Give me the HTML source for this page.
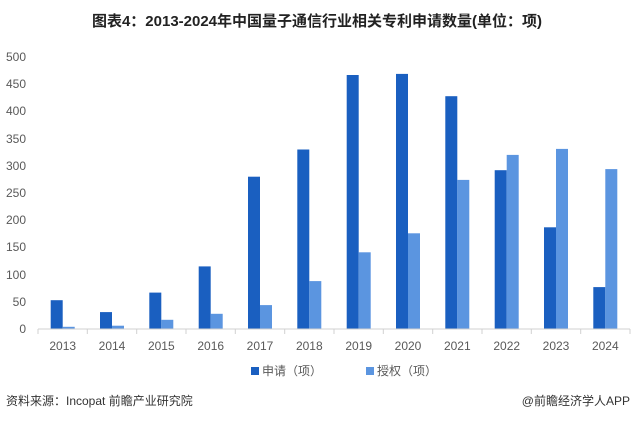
<!DOCTYPE html>
<html><head><meta charset="utf-8"><style>
body{margin:0;background:#fff;}
svg text{font-family:"Liberation Sans","Noto Sans CJK SC",sans-serif;}
</style></head><body>
<svg width="635" height="422" viewBox="0 0 635 422" xmlns="http://www.w3.org/2000/svg">
<rect width="635" height="422" fill="#fff"/>
<text x="317" y="26" text-anchor="middle" font-size="15" font-weight="bold" fill="#222">图表4：2013-2024年中国量子通信行业相关专利申请数量(单位：项)</text>
<g font-size="12" fill="#595959" text-anchor="end">
<text x="26" y="333">0</text><text x="26" y="306">50</text><text x="26" y="279">100</text>
<text x="26" y="251">150</text><text x="26" y="224">200</text><text x="26" y="197">250</text>
<text x="26" y="170">300</text><text x="26" y="143">350</text><text x="26" y="115">400</text>
<text x="26" y="88">450</text><text x="26" y="61">500</text>
</g>
<g fill="#1a5fc0">
<rect x="50.7" y="300.2" width="12" height="28.8"/>
<rect x="100.0" y="312.1" width="12" height="16.9"/>
<rect x="149.3" y="292.6" width="12" height="36.4"/>
<rect x="198.7" y="266.4" width="12" height="62.6"/>
<rect x="248.0" y="176.7" width="12" height="152.3"/>
<rect x="297.3" y="149.5" width="12" height="179.5"/>
<rect x="346.7" y="75.0" width="12" height="254.0"/>
<rect x="396.0" y="73.9" width="12" height="255.1"/>
<rect x="445.3" y="96.2" width="12" height="232.8"/>
<rect x="494.7" y="170.2" width="12" height="158.8"/>
<rect x="544.0" y="227.3" width="12" height="101.7"/>
<rect x="593.3" y="287.1" width="12" height="41.9"/>
</g>
<g fill="#5b95e0">
<rect x="62.7" y="326.8" width="12" height="2.2"/>
<rect x="112.0" y="325.7" width="12" height="3.3"/>
<rect x="161.3" y="319.8" width="12" height="9.2"/>
<rect x="210.7" y="313.8" width="12" height="15.2"/>
<rect x="260.0" y="305.1" width="12" height="23.9"/>
<rect x="309.3" y="281.1" width="12" height="47.9"/>
<rect x="358.7" y="252.3" width="12" height="76.7"/>
<rect x="408.0" y="233.3" width="12" height="95.7"/>
<rect x="457.3" y="179.9" width="12" height="149.1"/>
<rect x="506.7" y="154.9" width="12" height="174.1"/>
<rect x="556.0" y="148.9" width="12" height="180.1"/>
<rect x="605.3" y="169.1" width="12" height="159.9"/>
</g>
<g stroke="#d0d0d0">
<line x1="38" y1="329" x2="630" y2="329"/>
<line x1="38" y1="329" x2="38" y2="334"/><line x1="87.3" y1="329" x2="87.3" y2="334"/>
<line x1="136.7" y1="329" x2="136.7" y2="334"/><line x1="186" y1="329" x2="186" y2="334"/>
<line x1="235.3" y1="329" x2="235.3" y2="334"/><line x1="284.7" y1="329" x2="284.7" y2="334"/>
<line x1="334" y1="329" x2="334" y2="334"/><line x1="383.3" y1="329" x2="383.3" y2="334"/>
<line x1="432.7" y1="329" x2="432.7" y2="334"/><line x1="482" y1="329" x2="482" y2="334"/>
<line x1="531.3" y1="329" x2="531.3" y2="334"/><line x1="580.7" y1="329" x2="580.7" y2="334"/>
<line x1="630" y1="329" x2="630" y2="334"/>
</g>
<g font-size="12" fill="#595959" text-anchor="middle">
<text x="62.7" y="350">2013</text><text x="112" y="350">2014</text><text x="161.3" y="350">2015</text>
<text x="210.7" y="350">2016</text><text x="260" y="350">2017</text><text x="309.3" y="350">2018</text>
<text x="358.7" y="350">2019</text><text x="408" y="350">2020</text><text x="457.3" y="350">2021</text>
<text x="506.7" y="350">2022</text><text x="556" y="350">2023</text><text x="605.3" y="350">2024</text>
</g>
<rect x="251" y="367" width="8" height="8" fill="#1a5fc0"/>
<text x="262" y="375" font-size="12" fill="#595959">申请（项）</text>
<rect x="366" y="367" width="8" height="8" fill="#5b95e0"/>
<text x="377" y="375" font-size="12" fill="#595959">授权（项）</text>
<text x="6" y="405" font-size="12" fill="#333">资料来源：Incopat 前瞻产业研究院</text>
<text x="630" y="405" font-size="12" fill="#333" text-anchor="end">@前瞻经济学人APP</text>
</svg>
</body></html>
